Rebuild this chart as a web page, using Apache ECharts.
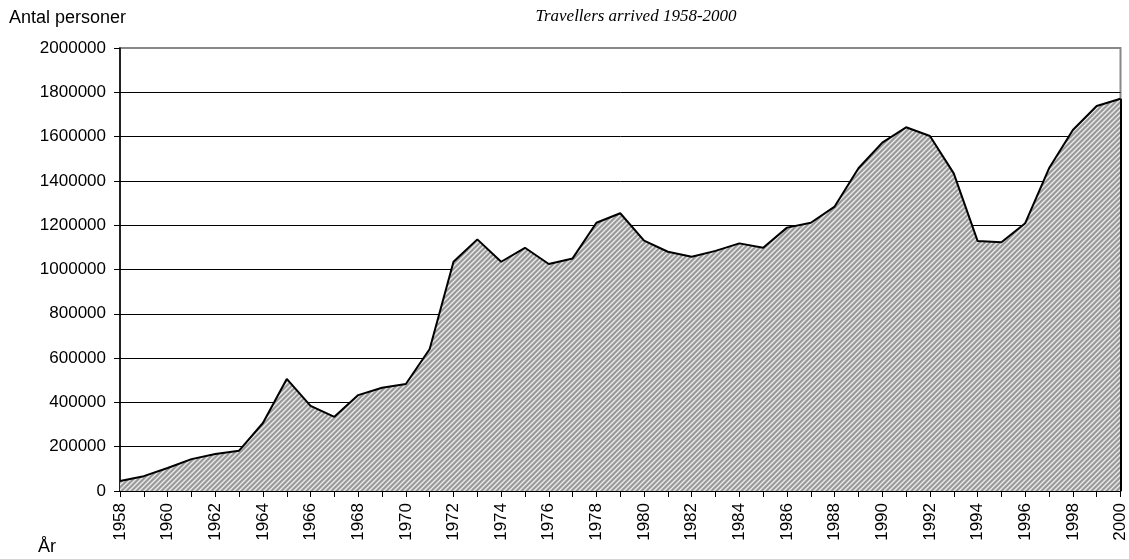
<!DOCTYPE html>
<html>
<head>
<meta charset="utf-8">
<script src="https://cdn.jsdelivr.net/npm/echarts@6/dist/echarts.min.js"></script>
<style>
html,body{margin:0;padding:0;background:#fff;}
#c{width:1129px;height:559px;}
</style>
</head>
<body>
<div id="c"></div>
<script>
var years = [];
for (var y = 1958; y <= 2000; y++) years.push(String(y));
var travellers = [
  45000, 67000, 104000, 144000, 167000, 182000, 307000, 506000, 384000, 335000,
  433000, 466000, 483000, 641000, 1035000, 1136000, 1035000, 1098000, 1025000, 1050000,
  1211000, 1254000, 1130000, 1080000, 1058000, 1084000, 1118000, 1098000, 1189000, 1211000,
  1284000, 1457000, 1573000, 1642000, 1603000, 1434000, 1129000, 1123000, 1209000, 1457000,
  1630000, 1738000, 1771000
];
var yMin = 0, yMax = 2000000, yStep = 200000;

function makePattern() {
  var s = 5;
  var cv = document.createElement('canvas');
  cv.width = s; cv.height = s;
  var ctx = cv.getContext('2d');
  ctx.fillStyle = '#999999';
  ctx.fillRect(0, 0, s, s);
  ctx.strokeStyle = '#ebebeb';
  ctx.lineWidth = 1.4;
  ctx.beginPath();
  ctx.moveTo(-1, s + 1); ctx.lineTo(s + 1, -1);
  ctx.moveTo(-1, 1); ctx.lineTo(1, -1);
  ctx.moveTo(s - 1, s + 1); ctx.lineTo(s + 1, s - 1);
  ctx.stroke();
  return cv;
}

var nLines = Math.round((yMax - yMin) / yStep) + 1;
var splitColors = [];
for (var i = 0; i < nLines; i++) splitColors.push(i === nLines - 1 ? '#888888' : '#000000');

var lastIdx = years.length - 1;

var chart = echarts.init(document.getElementById('c'));
chart.setOption({
  animation: false,
  backgroundColor: '#fff',
  title: {
    text: 'Travellers arrived 1958-2000',
    left: 631, top: 3, textAlign: 'center',
    textStyle: {fontFamily: 'Liberation Serif', fontStyle: 'italic', fontWeight: 'normal', fontSize: 17, color: '#000'}
  },
  graphic: [
    {type: 'text', left: 9, top: 9, style: {text: 'Antal personer', font: '18px "Liberation Sans"', fill: '#000'}},
    {type: 'text', left: 38, top: 538, style: {text: 'År', font: '18px "Liberation Sans"', fill: '#000'}}
  ],
  grid: {left: 120, right: 8, top: 48, bottom: 68, show: true, borderColor: '#888', borderWidth: 2, backgroundColor: 'transparent'},
  xAxis: {
    type: 'category', data: years, boundaryGap: false,
    axisLine: {lineStyle: {color: '#000', width: 1.5}},
    axisTick: {show: true, interval: 0, length: 6, lineStyle: {color: '#000'}},
    axisLabel: {interval: 1, rotate: 90, color: '#000', fontFamily: 'Liberation Sans', fontSize: 17, margin: 12},
    splitLine: {show: false}
  },
  yAxis: {
    type: 'value', min: yMin, max: yMax, interval: yStep,
    axisLine: {show: true, lineStyle: {color: '#000', width: 1.5}},
    axisTick: {show: true, length: 6, lineStyle: {color: '#000'}},
    axisLabel: {color: '#000', fontFamily: 'Liberation Sans', fontSize: 17, margin: 14,
      formatter: function (v) { return String(v); }},
    splitLine: {show: true, lineStyle: {color: splitColors, width: 1}}
  },
  series: [{
    type: 'line', data: travellers, showSymbol: false, symbol: 'none',
    lineStyle: {color: '#000', width: 2},
    areaStyle: {color: {image: makePattern(), repeat: 'repeat'}, opacity: 1},
    markLine: {
      silent: true, symbol: 'none', label: {show: false},
      lineStyle: {color: '#000', width: 2, type: 'solid'},
      data: [[{coord: [years[lastIdx], 0]}, {coord: [years[lastIdx], travellers[lastIdx]]}]]
    },
    z: 3
  }]
});
</script>
</body>
</html>
